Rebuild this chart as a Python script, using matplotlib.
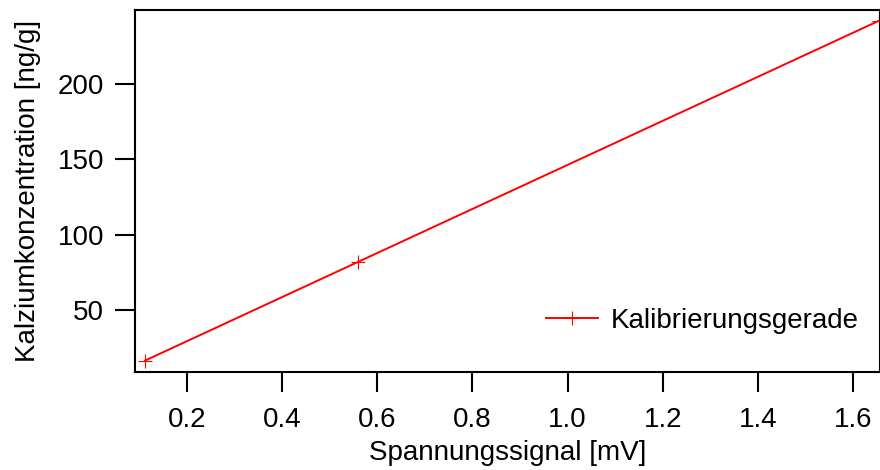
import matplotlib
matplotlib.use("Agg")
import matplotlib.pyplot as plt

signal_mV = [0.112, 0.56, 1.655]
conc_ngg = [16.5, 82, 242]
xticks = [0.2, 0.4, 0.6, 0.8, 1.0, 1.2, 1.4, 1.6]
yticks = [50, 100, 150, 200]

plt.rcParams['font.family'] = ['Liberation Sans', 'DejaVu Sans']

fig = plt.figure(figsize=(8.8, 4.7), dpi=100)
ax = fig.add_axes([135/880, 1-372/470, 1-135/880, (372-10)/470])
ax.plot(signal_mV, conc_ngg, color='#ff0000', lw=1.4, marker='+', ms=9.5, mew=0.8,
        label='Kalibrierungsgerade', clip_on=True)
ax.set_xlim(0.0907, 1.657)
ax.set_ylim(8.9, 249.1)
ax.set_xticks(xticks)
ax.set_xticklabels([f"{v:.1f}" for v in xticks])
ax.set_yticks(yticks)
ax.tick_params(direction='out', length=14.4, width=1.5, labelsize=20, colors='black')
ax.tick_params(axis='x', pad=11)
ax.tick_params(axis='y', pad=8)
for s in ax.spines.values():
    s.set_linewidth(1.5)
ax.set_xlabel('Spannungssignal [mV]', fontsize=20, labelpad=5)
ax.set_ylabel('Kalziumkonzentration [ng/g]', fontsize=20, labelpad=12)
ax.legend(loc='lower right', bbox_to_anchor=(1.005, 0.036), frameon=False, fontsize=20,
          handlelength=1.87, handletextpad=0.47)
fig.savefig('out.png', dpi=100)
